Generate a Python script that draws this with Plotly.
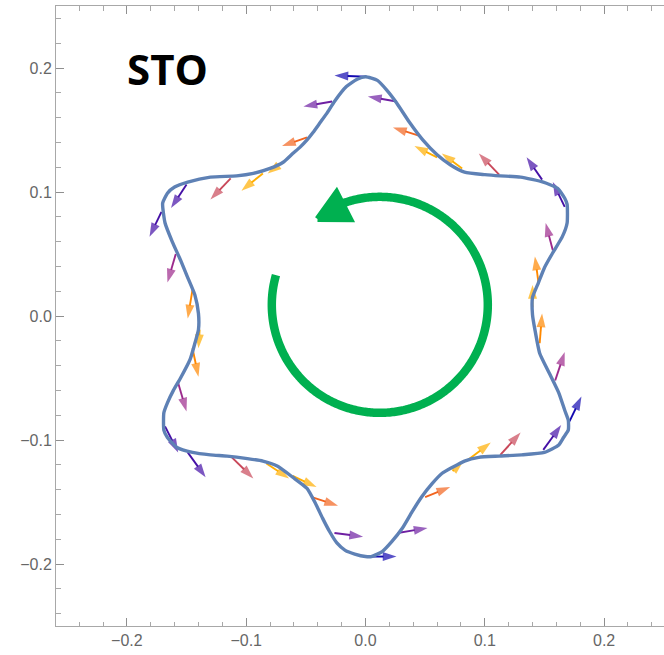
import numpy as np
import plotly.graph_objects as go

# ---------------------------------------------------------------
# Closed oscillator trajectory in the (x, y) plane, clockwise from
# the top lobe.
# ---------------------------------------------------------------
orbit_x = [0.000, 0.010, 0.018, 0.026, 0.037, 0.048, 0.060, 0.071, 0.083, 0.100,
           0.113, 0.130, 0.149, 0.161, 0.167, 0.169, 0.169, 0.165, 0.157, 0.150,
           0.145, 0.140, 0.140, 0.142, 0.146, 0.154, 0.162, 0.167, 0.170, 0.170,
           0.166, 0.162, 0.150, 0.131, 0.112, 0.095, 0.083, 0.073, 0.064, 0.056,
           0.047, 0.039, 0.031, 0.022, 0.014, 0.005, 0.000, -0.009, -0.017, -0.024,
           -0.030, -0.036, -0.042, -0.049, -0.061, -0.074, -0.086, -0.099, -0.116, -0.130,
           -0.145, -0.158, -0.166, -0.169, -0.169, -0.166, -0.161, -0.155, -0.147, -0.143,
           -0.140, -0.140, -0.143, -0.149, -0.155, -0.162, -0.168, -0.170, -0.166, -0.160,
           -0.149, -0.130, -0.108, -0.094, -0.080, -0.069, -0.061, -0.055, -0.049, -0.044,
           -0.038, -0.032, -0.026, -0.016, -0.007]
orbit_y = [0.193, 0.190, 0.182, 0.172, 0.156, 0.142, 0.130, 0.122, 0.116, 0.114,
           0.113, 0.112, 0.108, 0.103, 0.095, 0.090, 0.075, 0.064, 0.051, 0.039,
           0.027, 0.015, 0.001, -0.011, -0.030, -0.046, -0.062, -0.076, -0.084, -0.092,
           -0.098, -0.104, -0.110, -0.112, -0.113, -0.114, -0.117, -0.122, -0.127, -0.135,
           -0.146, -0.158, -0.171, -0.182, -0.190, -0.194, -0.194, -0.192, -0.189, -0.183,
           -0.174, -0.163, -0.151, -0.139, -0.130, -0.121, -0.117, -0.115, -0.113, -0.112,
           -0.110, -0.106, -0.098, -0.092, -0.078, -0.070, -0.060, -0.050, -0.035, -0.022,
           -0.011, 0.002, 0.017, 0.031, 0.045, 0.060, 0.075, 0.091, 0.099, 0.104,
           0.108, 0.112, 0.113, 0.115, 0.119, 0.124, 0.131, 0.136, 0.142, 0.148,
           0.156, 0.164, 0.173, 0.185, 0.191]

# ---------------------------------------------------------------
# Local vectors sampled along the trajectory: tail -> head, plus a
# colour class for each one.
# ---------------------------------------------------------------
vec_tail_x = [0.001, 0.026, 0.046, 0.060, 0.081, 0.112, 0.148, 0.167, 0.157, 0.145,
              0.140, 0.146, 0.159, 0.171, 0.149, 0.113, 0.086, 0.073, 0.050, 0.027,
              0.001, -0.026, -0.045, -0.061, -0.083, -0.112, -0.149, -0.168, -0.157, -0.145,
              -0.139, -0.145, -0.159, -0.171, -0.150, -0.113, -0.086, -0.072, -0.049, -0.028]
vec_tail_y = [0.193, 0.173, 0.145, 0.128, 0.119, 0.114, 0.110, 0.088, 0.053, 0.027,
              0.007, -0.022, -0.052, -0.085, -0.108, -0.112, -0.116, -0.125, -0.146, -0.175,
              -0.194, -0.175, -0.146, -0.129, -0.119, -0.114, -0.110, -0.089, -0.054, -0.026,
              -0.011, 0.021, 0.050, 0.084, 0.106, 0.111, 0.115, 0.122, 0.144, 0.173]
vec_head_x = [-0.026, 0.002, 0.023, 0.041, 0.064, 0.095, 0.135, 0.157, 0.151, 0.142,
              0.140, 0.148, 0.167, 0.181, 0.164, 0.130, 0.105, 0.082, 0.071, 0.052,
              0.026, -0.002, -0.023, -0.041, -0.064, -0.094, -0.134, -0.157, -0.150, -0.140,
              -0.140, -0.149, -0.166, -0.181, -0.163, -0.130, -0.104, -0.082, -0.070, -0.052]
vec_head_y = [0.194, 0.177, 0.152, 0.137, 0.131, 0.131, 0.128, 0.108, 0.075, 0.048,
              0.025, 0.002, -0.029, -0.065, -0.088, -0.094, -0.102, -0.117, -0.138, -0.171,
              -0.194, -0.178, -0.153, -0.138, -0.131, -0.131, -0.130, -0.110, -0.077, -0.049,
              -0.026, -0.002, 0.027, 0.064, 0.087, 0.094, 0.101, 0.115, 0.137, 0.169]
vec_class = ["blue", "purple", "orangered", "yellow", "yellow", "red", "indigo", "indigo",
             "magenta", "orange", "yellow", "orange", "magenta", "blue",
             "indigo", "red", "yellow", "yellow", "orangered", "purple", "blue",
             "purple", "orangered", "yellow", "yellow", "red", "indigo", "indigo",
             "magenta", "orange", "yellow", "orange", "magenta", "indigo",
             "indigo", "red", "yellow", "yellow", "orangered", "purple"]

class_colors = {
    "blue": "#1208b0",
    "indigo": "#4510a6",
    "purple": "#6e1fa2",
    "magenta": "#9c2a8c",
    "red": "#c9485a",
    "orangered": "#f2641e",
    "orange": "#ff8800",
    "yellow": "#ffae00",
}

tick_vals = [-0.2, -0.1, 0.0, 0.1, 0.2]
tick_text = ["\u22120.2", "\u22120.1", "0.0", "0.1", "0.2"]

title_text = "STO"

# ---------------------------------------------------------------
# Frame geometry
# ---------------------------------------------------------------
W, H = 664, 655
MARGIN = dict(l=56, r=0, t=6, b=29)
X_RANGE = [-0.2594, 0.2502]
Y_RANGE = [-0.25, 0.25]
kx = (X_RANGE[1] - X_RANGE[0]) / (W - MARGIN["l"] - MARGIN["r"])   # data units per px
ky = (Y_RANGE[1] - Y_RANGE[0]) / (H - MARGIN["t"] - MARGIN["b"])

fig = go.Figure()

# vectors (drawn first so the trajectory sits on top of them)
for name, col in class_colors.items():
    xs, ys, sizes = [], [], []
    for tx, ty, hx, hy, c in zip(vec_tail_x, vec_tail_y, vec_head_x, vec_head_y, vec_class):
        if c != name:
            continue
        xs += [tx, hx, None]
        ys += [ty, hy, None]
        sizes += [0, 14.5, 0]
    if not xs:
        continue
    fig.add_trace(go.Scatter(
        x=xs, y=ys, mode="lines+markers",
        line=dict(color=col, width=1.9),
        marker=dict(symbol="arrow", angleref="previous", size=sizes, color=col,
                    line=dict(width=0)),
        hoverinfo="skip", showlegend=False,
    ))

# trajectory
fig.add_trace(go.Scatter(
    x=orbit_x + orbit_x[:1], y=orbit_y + orbit_y[:1], mode="lines",
    line=dict(color="#5e81b5", width=3.4, shape="spline", smoothing=0.5),
    hoverinfo="skip", showlegend=False,
))

# counter-clockwise rotation sign in the middle of the orbit
GREEN = "#00b050"
rot_cx, rot_cy = 0.012, 0.009
rot_r = 108.0            # px
arc_t = np.radians(np.linspace(164, 470, 400))
fig.add_trace(go.Scatter(
    x=rot_cx + rot_r * kx * np.cos(arc_t),
    y=rot_cy + rot_r * ky * np.sin(arc_t),
    mode="lines", line=dict(color=GREEN, width=8.5, simplify=False),
    hoverinfo="skip", showlegend=False,
))
tip_a = np.radians(126)
tip = np.array([106 * np.cos(tip_a), 106 * np.sin(tip_a)])
back = np.array([np.cos(np.radians(27)), np.sin(np.radians(27))])
perp = np.array([-back[1], back[0]])
head_pts = [tip, tip + 29 * back + 15 * perp, tip + 29 * back - 15 * perp, tip]
fig.add_trace(go.Scatter(
    x=[rot_cx + p[0] * kx for p in head_pts],
    y=[rot_cy + p[1] * ky for p in head_pts],
    mode="lines", fill="toself", fillcolor=GREEN,
    line=dict(color=GREEN, width=6, simplify=False),
    hoverinfo="skip", showlegend=False,
))

fig.add_annotation(
    x=-0.166, y=0.200, xref="x", yref="y", text=title_text, showarrow=False,
    font=dict(family="Open Sans", size=42, color="black", weight="bold"),
    xanchor="center", yanchor="middle",
)

FRAME = "#a8a8a8"
axis_common = dict(
    showgrid=False, zeroline=False, showline=True, linecolor=FRAME, linewidth=1,
    ticks="inside", ticklen=8, tickwidth=1, tickcolor="#8f8f8f",
    tickvals=tick_vals, ticktext=tick_text,
    tickfont=dict(family="Liberation Sans", size=16, color="#666666"),
    minor=dict(ticks="inside", dtick=0.02, tick0=0, ticklen=4.5, tickwidth=1,
               tickcolor="#a8a8a8", showgrid=False),
    fixedrange=True,
)
fig.update_xaxes(range=X_RANGE, mirror="ticks", **axis_common)
fig.update_yaxes(range=Y_RANGE, mirror=False, **axis_common)

fig.update_layout(
    width=W, height=H, margin=MARGIN,
    paper_bgcolor="white", plot_bgcolor="white",
    showlegend=False,
)

fig.write_html("out.html")
